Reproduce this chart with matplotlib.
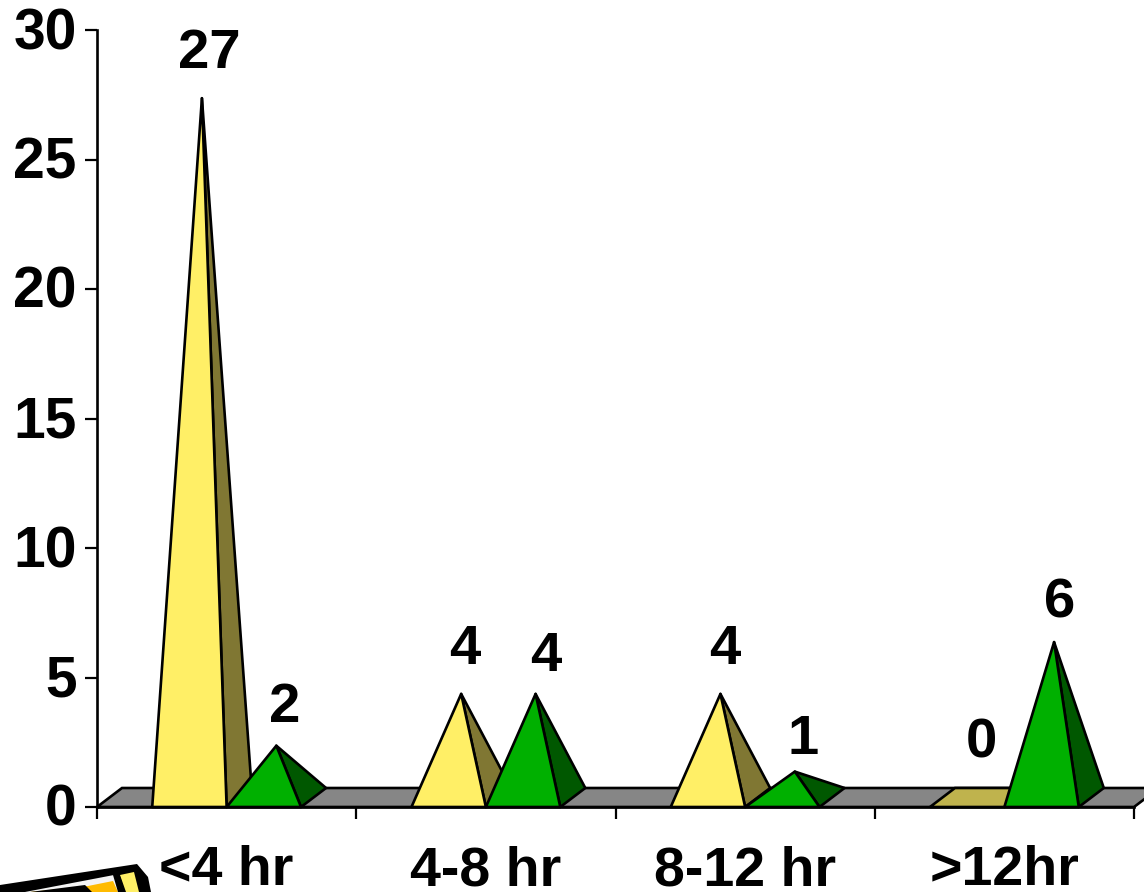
import matplotlib
matplotlib.use('Agg')
from matplotlib import pyplot as plt
from matplotlib.patches import Polygon
from matplotlib.transforms import ScaledTranslation

categories = ['<4 hr', '4-8 hr', '8-12 hr', '>12hr']
yellow_values = [27, 4, 4, 0]
green_values = [2, 4, 1, 6]
y_ticks = [0, 5, 10, 15, 20, 25, 30]

W, H = 1144, 892
LEFT, RIGHT, TOP, BOTTOM = 97, 1134, 30, 807
BAR_W = 0.287
DX = 25 / (RIGHT - LEFT) * 4
DY = 19 / (BOTTOM - TOP) * 30
LW = 1.9


def pyramid(ax, x0, value, front, side, z):
    x1 = x0 + BAR_W
    if value == 0:
        ax.add_patch(Polygon([(x0, 0), (x1, 0), (x1 + DX, DY), (x0 + DX, DY)], closed=True,
                             fc=side, ec='black', lw=LW, clip_on=False, zorder=z))
        return
    apex = (x0 + BAR_W / 2 + DX / 2, DY / 2 + value)
    ax.add_patch(Polygon([(x1, 0), (x1 + DX, DY), apex], closed=True, fc=side, ec='black',
                         lw=LW, clip_on=False, joinstyle='round', zorder=z))
    ax.add_patch(Polygon([(x0, 0), (x1, 0), apex], closed=True, fc=front, ec='black',
                         lw=LW, clip_on=False, joinstyle='round', zorder=z + 0.1))


def pencil(fig):
    # clip art corner, cut by the bottom edge
    parts = [
        ('black', [(0, 885), (137, 864), (148, 877), (151, 892), (0, 892)]),
        ('#F4F4F4', [(25, 892), (114, 875), (120, 892)]),
        ('#FFBB00', [(30, 892), (88, 886), (113, 881), (118, 892)]),
        ('black', [(30, 892), (85, 885), (92, 892)]),
        ('#FFEF66', [(120, 875), (134, 872), (139, 892), (126, 892)]),
        ('black', [(113, 875), (119, 873), (125, 892), (118, 892)]),
    ]
    for color, pts in parts:
        fig.add_artist(Polygon([(x / W, 1 - y / H) for x, y in pts], closed=True, fc=color,
                               ec='none', transform=fig.transFigure))


def main():
    plt.rcParams['font.family'] = ['Liberation Sans', 'DejaVu Sans']
    fig = plt.figure(figsize=(W / 100, H / 100), dpi=100)
    ax = fig.add_axes([LEFT / W, 1 - BOTTOM / H, (RIGHT - LEFT) / W, (BOTTOM - TOP) / H])
    ax.set_xlim(0, 4)
    ax.set_ylim(0, 30)

    # floor
    ax.add_patch(Polygon([(0, 0), (4, 0), (4 + DX, DY), (DX, DY)], closed=True, fc='#868686',
                         ec='black', lw=LW, clip_on=False, zorder=1))

    for i in range(4):
        c = i + 0.5
        pyramid(ax, c - BAR_W, yellow_values[i], '#FFEF66', '#BFB34D' if yellow_values[i] == 0 else '#807733', 2 + i)
        pyramid(ax, c, green_values[i], '#00B000', '#005800', 2.5 + i)

    # value labels sit where they were dragged by hand in the original
    label_px = [(209, 48), (285, 702), (465, 644), (546, 651), (725, 644), (803, 734), (981, 738), (1060, 597)]
    label_vals = [yellow_values[0], green_values[0], yellow_values[1], green_values[1],
                  yellow_values[2], green_values[2], yellow_values[3], green_values[3]]
    for (px, py), v in zip(label_px, label_vals):
        fig.text(px / W, 1 - py / H, str(v), fontsize=40.5, fontweight='bold', ha='center', va='center_baseline')

    for s in ['top', 'right']:
        ax.spines[s].set_visible(False)
    for s in ['left', 'bottom']:
        ax.spines[s].set_linewidth(LW)
        ax.spines[s].set_zorder(20)
    ax.set_yticks(y_ticks)
    ax.set_xticks([0, 1, 2, 3, 4])
    ax.set_xticklabels([])
    ax.tick_params(axis='y', length=8.6, width=1.6, labelsize=41, pad=6)
    ax.tick_params(axis='x', length=8.6, width=1.6)
    up = ScaledTranslation(0, 2 / 100, fig.dpi_scale_trans)
    for t in ax.get_yticklabels():
        t.set_fontweight('bold')
        t.set_transform(t.get_transform() + up)

    for i, name in enumerate(categories):
        ax.annotate(name, (i + 0.5, 0), xytext=(0, -78 * 0.72), textcoords='offset points', fontsize=40,
                    fontweight='bold', ha='center', va='baseline', annotation_clip=False)

    pencil(fig)
    fig.savefig('out.png', dpi=100)


if __name__ == '__main__':
    main()
